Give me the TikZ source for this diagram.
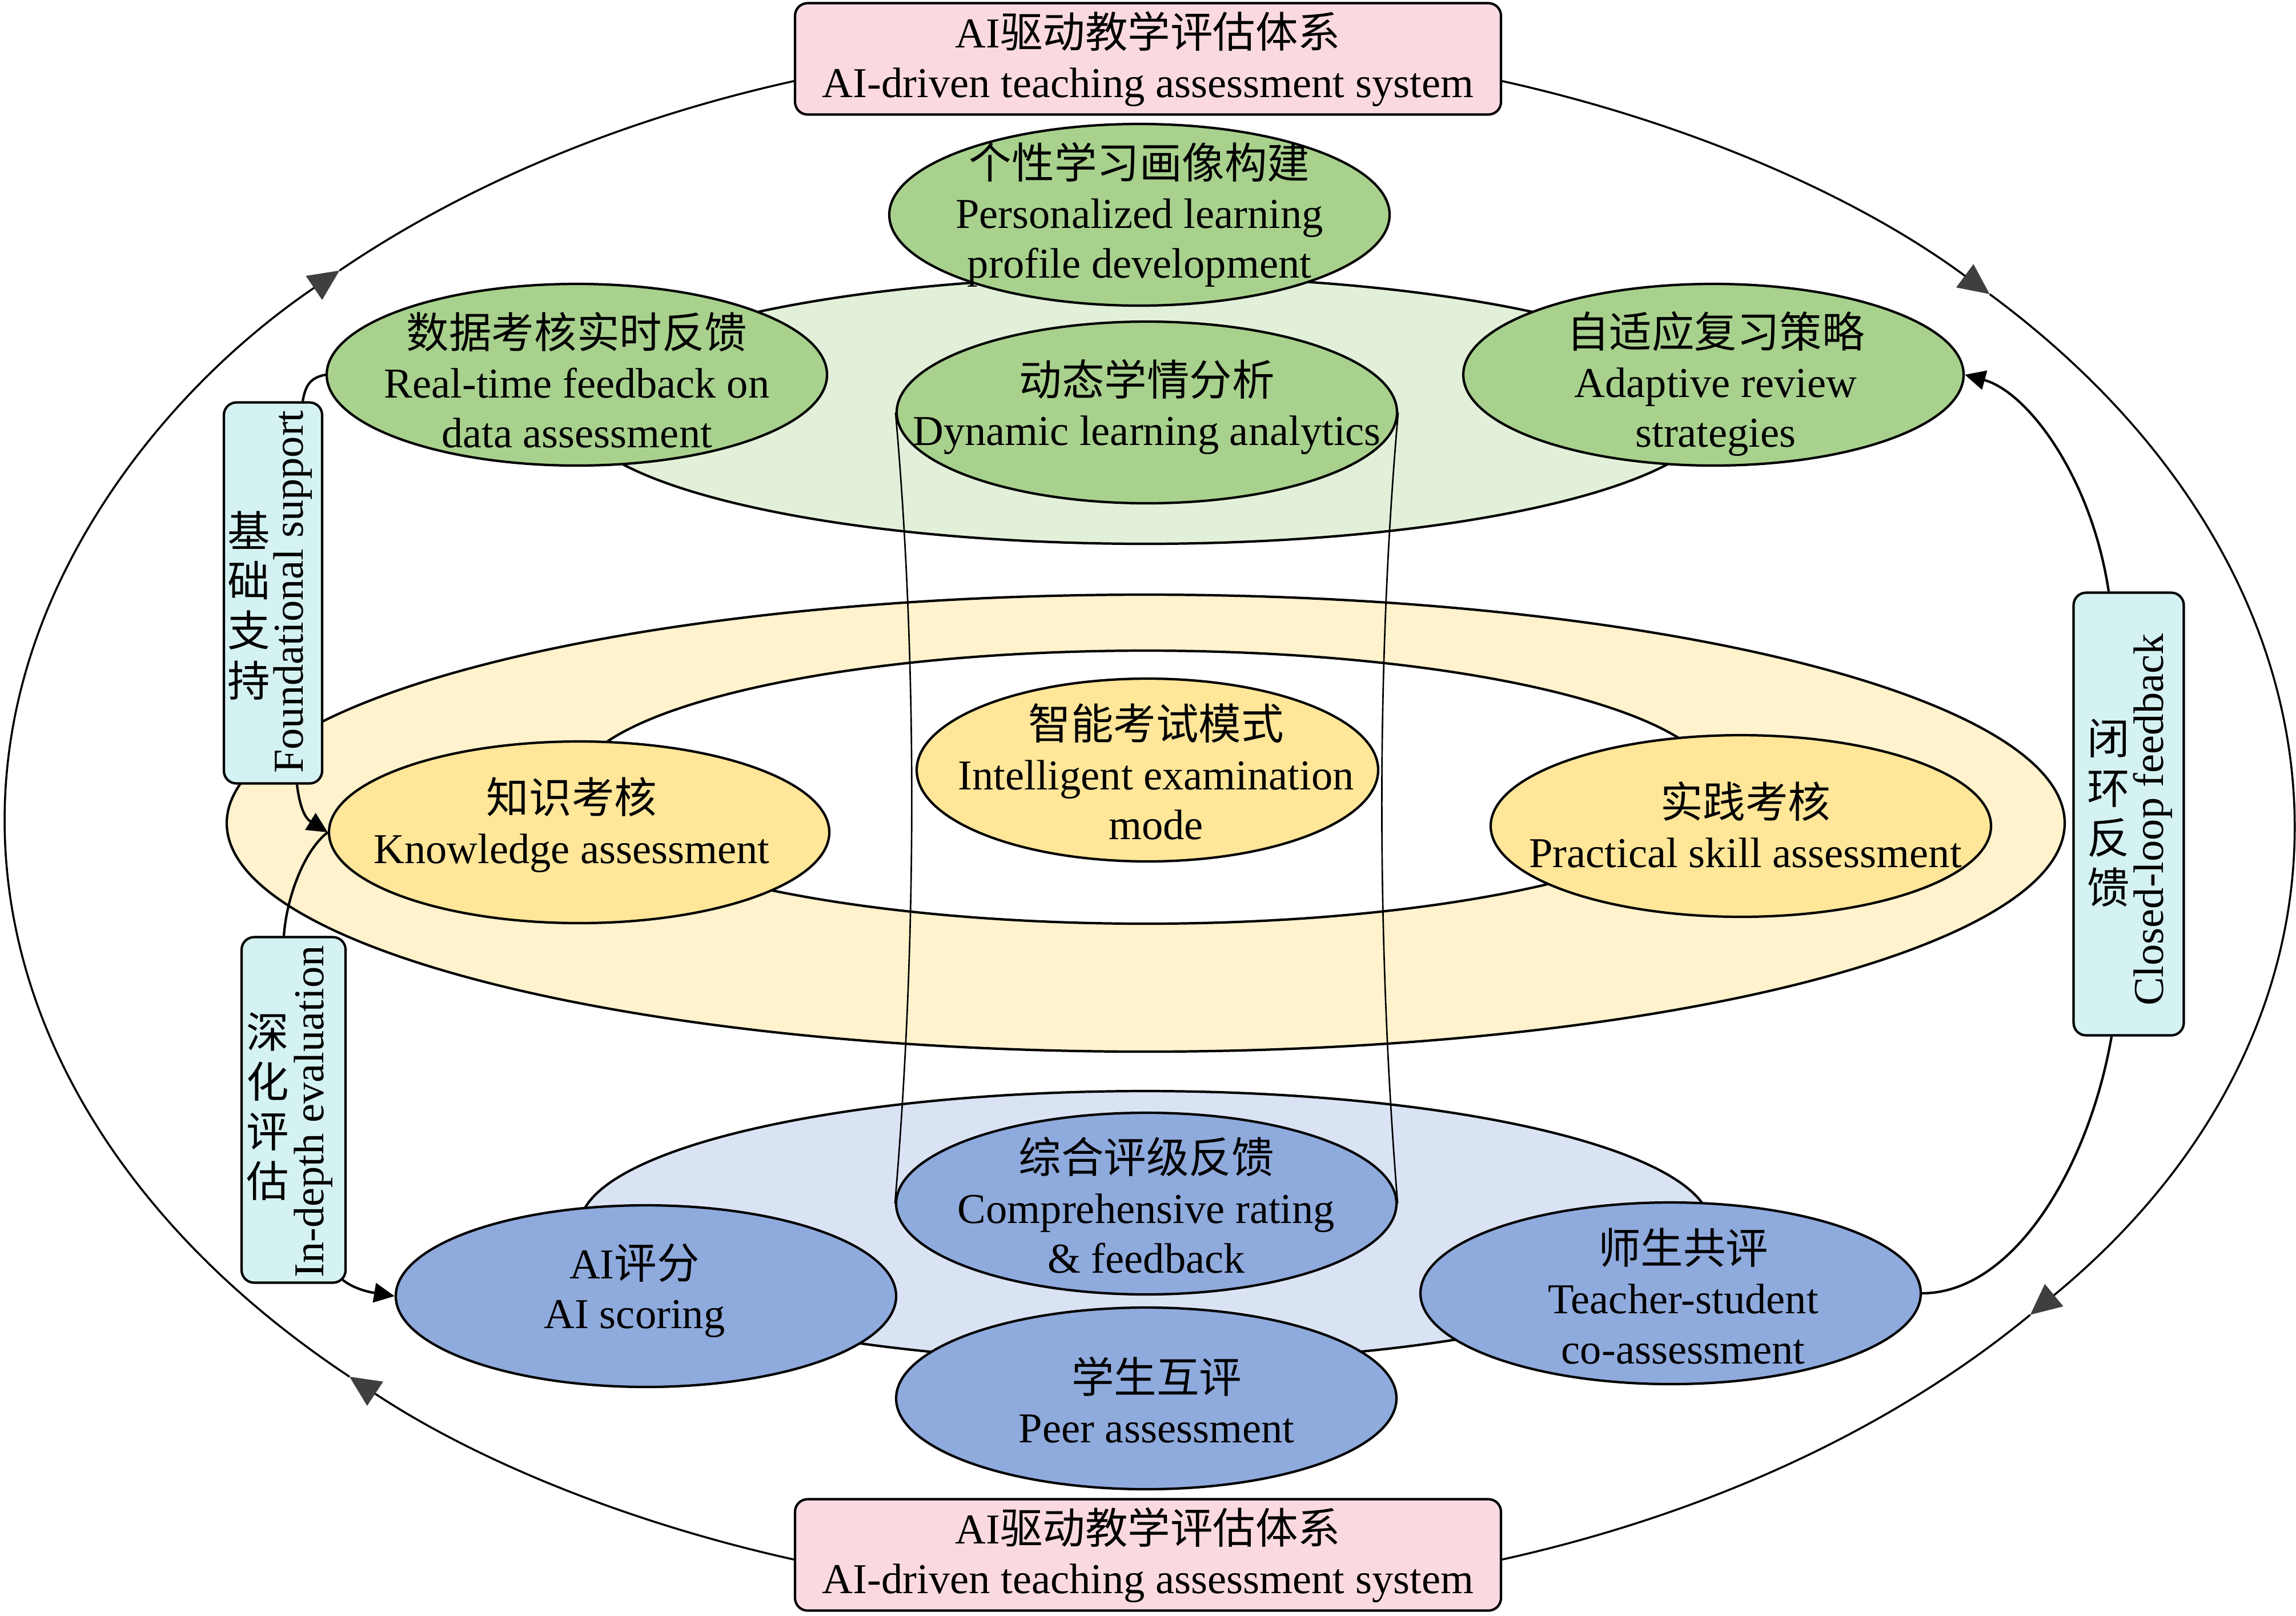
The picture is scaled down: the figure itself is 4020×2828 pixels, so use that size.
\documentclass[tikz,border=0pt]{standalone}
\usepackage{fontspec}
\setmainfont{Liberation Serif}
\newfontfamily\cjk{Noto Sans CJK SC}
\usetikzlibrary{arrows.meta,shapes.geometric,calc}
\definecolor{cGreen}{HTML}{A9D18E}
\definecolor{cGreenL}{HTML}{E2F0D9}
\definecolor{cYel}{HTML}{FFE699}
\definecolor{cYelL}{HTML}{FFF2CC}
\definecolor{cBlue}{HTML}{8FAADC}
\definecolor{cBlueL}{HTML}{DAE3F3}
\definecolor{cPink}{HTML}{FADAE0}
\definecolor{cCyan}{HTML}{D5F2F2}
\definecolor{cTip}{HTML}{3F3F3F}
\begin{document}
\begin{tikzpicture}[x=0.1mm,y=-0.1mm,
  txt/.style={font=\fontsize{21.2pt}{24.8pt}\selectfont, align=center, inner sep=0pt},
  cjktxt/.style={font={\fontsize{21.2pt}{24.8pt}\selectfont\cjk}, align=center, inner sep=0pt},
  elln/.style={ellipse, draw=black, line width=1.2pt, minimum width=87.6mm, minimum height=31.8mm, inner sep=0pt},
  gn/.style={elln, fill=cGreen},
  yn/.style={elln, fill=cYel},
  bn/.style={elln, fill=cBlue},
  sbox/.style={draw=black, line width=1.2pt, rounded corners=2.2mm, fill=cCyan, inner sep=0pt},
  tbox/.style={txt, draw=black, line width=1.2pt, rounded corners=2.2mm, fill=cPink, minimum width=123.6mm, minimum height=19.5mm},
  loopl/.style={line width=1pt, draw=black},
  looptip/.style={-{Triangle[length=5.4mm,width=5mm,color=cTip]}},
  conn/.style={line width=1.2pt, draw=black},
  conntip/.style={-{Triangle[length=3.6mm,width=3.4mm]}},
  cyl/.style={line width=0.75pt, draw=black},
  layer/.style={line width=1.2pt, draw=black}]

\useasboundingbox (0,0) rectangle (4020,2828);

% ---------- outer closed loop ----------
\coordinate (oc) at (2010,1436);
\draw[loopl, looptip] ([shift={(72:200.2mm and 136.1mm)}]oc) arc[start angle=72, end angle=42.6, x radius=200.2mm, y radius=136.1mm];
\draw[loopl, looptip] ([shift={(42.6:200.2mm and 136.1mm)}]oc) arc[start angle=42.6, end angle=-39.5, x radius=200.2mm, y radius=136.1mm];
\draw[loopl] ([shift={(-39.5:200.2mm and 136.1mm)}]oc) arc[start angle=-39.5, end angle=-72, x radius=200.2mm, y radius=136.1mm];
\draw[loopl, looptip] ([shift={(252:200.2mm and 136.1mm)}]oc) arc[start angle=252, end angle=225.7, x radius=200.2mm, y radius=136.1mm];
\draw[loopl, looptip] ([shift={(225.7:200.2mm and 136.1mm)}]oc) arc[start angle=225.7, end angle=135, x radius=200.2mm, y radius=136.1mm];
\draw[loopl] ([shift={(135:200.2mm and 136.1mm)}]oc) arc[start angle=135, end angle=108, x radius=200.2mm, y radius=136.1mm];

% ---------- layers ----------
\draw[layer, fill=cGreenL] (2005,718) ellipse [x radius=100mm, y radius=23.4mm];
\draw[layer, fill=cYelL] (2006,1441) ellipse [x radius=160.9mm, y radius=40mm];
\draw[layer, fill=white] (2006,1378) ellipse [x radius=100mm, y radius=23.9mm];
\draw[layer, fill=cBlueL] (2005,2147) ellipse [x radius=99mm, y radius=23.7mm];

% ---------- ellipse nodes ----------
\node[gn] (pers) at (1995,376) {};
\node[gn] (rt) at (1010,656) {};
\node[gn] (dyn) at (2008,722) {};
\node[gn] (ada) at (3000,656) {};
\node[yn] (know) at (1014,1457) {};
\node[yn, minimum width=80.8mm, minimum height=32mm] (intel) at (2009,1348) {};
\node[yn] (prac) at (3048,1446) {};
\node[bn] (comp) at (2007,2107) {};
\node[bn] (ais) at (1131,2269) {};
\node[bn] (teach) at (2925,2264) {};

% cylinder lines
\draw[cyl] (dyn.west) .. controls (1606,1150) and (1606,1650) .. (comp.west);
\draw[cyl] (dyn.east) .. controls (2410,1150) and (2410,1650) .. (comp.east);

\node[bn] (peer) at (2007,2448) {};

% ---------- node texts ----------
\node[txt] (pers-t) at (1995,376) {{\cjk 个性学习画像构建}\\Personalized learning\\profile development};
\node[txt] (rt-t) at (1010,665) {{\cjk 数据考核实时反馈}\\Real-time feedback on\\data assessment};
\node[txt] (dyn-t) at (2008,712) {{\cjk 动态学情分析}\\Dynamic learning analytics};
\node[txt] (ada-t) at (3004,672) {{\cjk 自适应复习策略}\\Adaptive review\\strategies};
\node[txt] (know-t) at (1001,1444) {{\cjk 知识考核}\\Knowledge assessment};
\node[txt] (intel-t) at (2024,1351) {{\cjk 智能考试模式}\\Intelligent examination\\mode};
\node[txt] (prac-t) at (3056,1444) {{\cjk 实践考核}\\Practical skill assessment};
\node[txt] (comp-t) at (2007,2110) {{\cjk 综合评级反馈}\\Comprehensive rating\\\& feedback};
\node[txt] (ais-t) at (1111,2259) {AI{\cjk 评分}\\AI scoring};
\node[txt] (peer-t) at (2025,2451) {{\cjk 学生互评}\\Peer assessment};
\node[txt] (teach-t) at (2947,2269) {{\cjk 师生共评}\\Teacher-student\\co-assessment};

% ---------- title boxes ----------
\node[tbox] (top) at (2010,103) {AI{\cjk 驱动教学评估体系}\\AI-driven teaching assessment system};
\node[tbox] (bot) at (2010,2722) {AI{\cjk 驱动教学评估体系}\\AI-driven teaching assessment system};

% ---------- side boxes ----------
\node[sbox, minimum width=17.2mm, minimum height=66.7mm] (fnd) at (478,1038) {};
\node[cjktxt] (fnd-c) at (436,1060) {基\\础\\支\\持};
\node[txt, rotate=90] (fnd-e) at (513,1036) {Foundational support};

\node[sbox, minimum width=18.2mm, minimum height=60.5mm] (ind) at (514,1943) {};
\node[cjktxt] (ind-c) at (469,1937) {深\\化\\评\\估};
\node[txt, rotate=90] (ind-e) at (549,1946) {In-depth evaluation};

\node[sbox, minimum width=19.3mm, minimum height=77.5mm] (clf) at (3727,1425) {};
\node[cjktxt] (clf-c) at (3692,1423) {闭\\环\\反\\馈};
\node[txt, rotate=90] (clf-e) at (3769,1435) {Closed-loop feedback};

% ---------- connectors ----------
\draw[conn] ($(fnd.north)+(52,0)$) .. controls +(5,-30) and +(-25,5) .. (rt.west);
\draw[conn, conntip] ($(fnd.south)+(42,0)$) .. controls +(5,40) and +(-40,-25) .. (know.west);
\draw[conn] (know.west) .. controls +(-40,30) and +(5,-70) .. ($(ind.north)+(-17,0)$);
\draw[conn, conntip] ($(ind.south east)+(-7,-7)$) .. controls +(25,20) and +(-30,-5) .. (ais.west);
\draw[conn] (teach.east) .. controls +(160,0) and +(-40,230) .. ($(clf.south)+(-30,0)$);
\draw[conn, conntip] ($(clf.north)+(-35,0)$) .. controls +(-30,-200) and +(110,30) .. (ada.east);
\end{tikzpicture}
\end{document}
